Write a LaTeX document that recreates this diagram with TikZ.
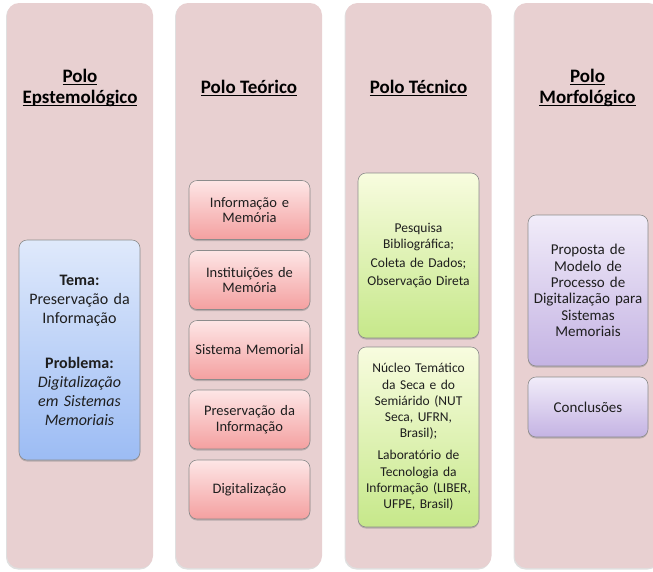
\documentclass[tikz,border=0pt]{standalone}
\usepackage{fontspec}
\setmainfont{Carlito}
\usepackage{tikz}
\usetikzlibrary{shadows}
\definecolor{polefill}{HTML}{E8D0D1}
\definecolor{txt}{HTML}{1E1E1E}
\definecolor{blueTop}{HTML}{DFE9FB}
\definecolor{blueBot}{HTML}{9CBCF4}
\definecolor{redTop}{HTML}{FDE6E6}
\definecolor{redBot}{HTML}{F4A0A0}
\definecolor{greenTop}{HTML}{F8FCDF}
\definecolor{greenBot}{HTML}{C6E88A}
\definecolor{purpTop}{HTML}{F1ECF9}
\definecolor{purpBot}{HTML}{C4B3E3}
\newcommand\polul[1]{\setbox0\hbox{#1}\rlap{\rule[-2.3pt]{\wd0}{1.2pt}}\box0}
\tikzset{pole/.style={rounded corners=12pt, fill=polefill, minimum width=146pt,
    minimum height=565pt, drop shadow={shadow xshift=-1pt, shadow yshift=-1.5pt, opacity=.25}}}
\tikzset{head/.style={font=\fontsize{19}{21}\selectfont\bfseries, align=center, text=black}}
\tikzset{item/.style={rounded corners=8pt, draw=black!45, line width=.6pt, text=txt,
    align=center, inner xsep=2pt, text width=117pt,
    drop shadow={shadow xshift=0pt, shadow yshift=-1.5pt, opacity=.45}}}
\tikzset{tema/.style={item, top color=blueTop, bottom color=blueBot, font=\fontsize{16}{19}\selectfont}}
\tikzset{teor/.style={item, top color=redTop, bottom color=redBot, minimum height=59pt,
    font=\fontsize{14.5}{15.5}\selectfont}}
\tikzset{tecn/.style={item, top color=greenTop, bottom color=greenBot, font=\fontsize{13.5}{16.2}\selectfont}}
\tikzset{morf/.style={item, top color=purpTop, bottom color=purpBot, text width=116pt,
    font=\fontsize{15}{16.3}\selectfont}}

\begin{document}
\begin{tikzpicture}[x=1pt,y=-1pt]
  \useasboundingbox (0,0) rectangle (653,571);
  % the four poles
  \foreach \x/\lab/\txt in {
    80/epi/{\polul{Polo}\\\polul{Epstemológico}},
    249/teo/{\polul{Polo Teórico}},
    418.5/tec/{\polul{Polo Técnico}},
    587.5/mor/{\polul{Polo}\\\polul{Morfológico}}%
  } {
    \node[pole] (\lab) at (\x, 285.5) {};
    \node[head] (h\lab) at (\x, 88) {\txt};
  }
  % epistemologico
  \node[tema, minimum height=220pt] (tema) at (79.5, 350)
    {\textbf{Tema:}\\Preservação da\\Informação\\[26pt]\textbf{Problema:}\\
     \textit{Digitalização}\\\textit{em Sistemas}\\\textit{Memoriais}};
  % teorico
  \foreach \y/\lab/\txt in {
    210/infmem/{Informação e\\Memória},
    280/instmem/{Instituições de\\Memória},
    350/sismem/{Sistema Memorial},
    419.5/presinf/{Preservação da\\Informação},
    489.5/digit/{Digitalização}%
  } {
    \node[teor] (\lab) at (249.5, \y) {\txt};
  }
  % tecnico
  \node[tecn, minimum height=165pt] (pesq) at (418.5, 255.5)
    {Pesquisa\\Bibliográfica;\\[2pt]Coleta de Dados;\\[2pt]Observação Direta};
  \node[tecn, minimum height=180pt] (lab) at (418.5, 437)
    {Núcleo Temático\\da Seca e do\\Semiárido (NUT\\Seca, UFRN,\\Brasil);\\[6pt]
     Laboratório de\\Tecnologia da\\Informação (LIBER,\\UFPE, Brasil)};
  % morfologico
  \node[morf, minimum height=151pt] (prop) at (588, 290.5)
    {Proposta de\\Modelo de\\Processo de\\Digitalização para\\Sistemas\\Memoriais};
  \node[morf, minimum height=60pt] (concl) at (588, 407) {Conclusões};
\end{tikzpicture}
\end{document}
